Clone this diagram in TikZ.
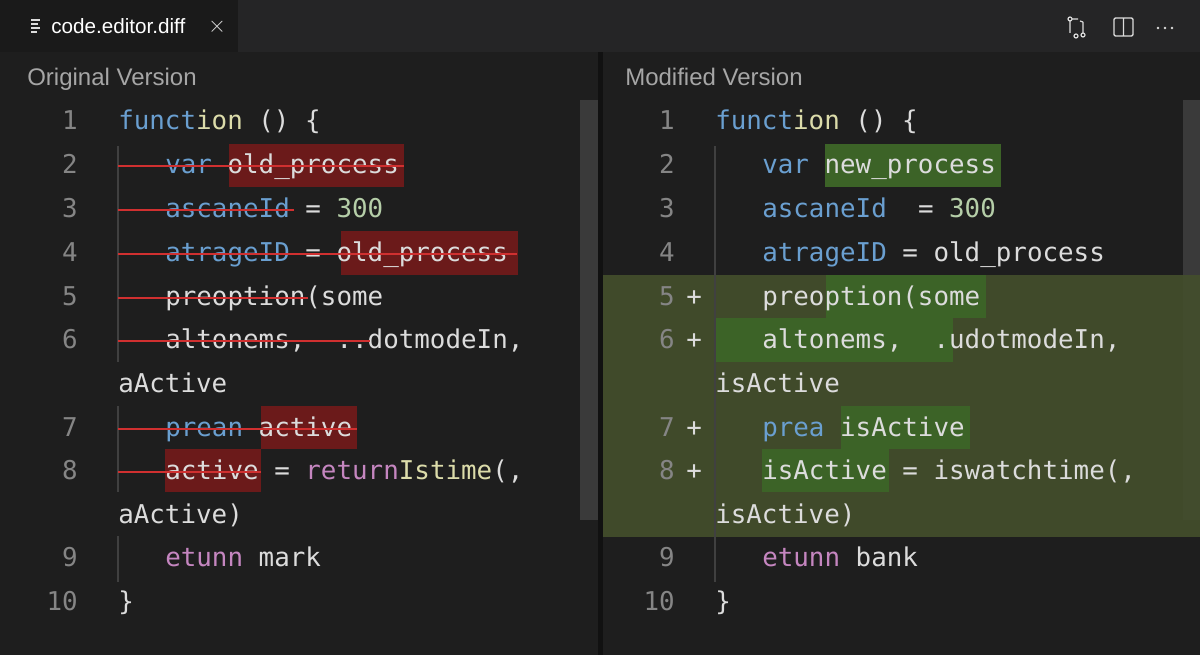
\documentclass[tikz,border=0pt]{standalone}
\usepackage{fontspec}
\setmainfont{Liberation Sans}
\newfontfamily\codefont{DejaVu Sans Mono}
\definecolor{bg}{HTML}{1E1E1E}
\definecolor{tabbar}{HTML}{252526}
\definecolor{tabc}{HTML}{1A1A1A}
\definecolor{kw}{HTML}{6A9FD0}
\definecolor{fn}{HTML}{DCDCAA}
\definecolor{num}{HTML}{B5CEA8}
\definecolor{pur}{HTML}{C586C0}
\definecolor{txt}{HTML}{DCDCDC}
\definecolor{lnc}{HTML}{858585}
\definecolor{redbox}{HTML}{6B1A1A}
\definecolor{strike}{HTML}{D03030}
\definecolor{olive}{HTML}{434E2C}
\definecolor{grn}{HTML}{3C6327}
\definecolor{guide}{HTML}{404040}
\definecolor{scroll}{HTML}{3A3A3A}
\begin{document}
\begin{tikzpicture}[x=0.75pt,y=-0.75pt,
  code/.style={anchor=base west,inner sep=0pt,text=txt,font=\codefont\fontsize{19.4}{20}\selectfont},
  lnum/.style={anchor=base east,inner sep=0pt,text=lnc,font=\codefont\fontsize{19.4}{20}\selectfont},
  plus/.style={anchor=base west,inner sep=0pt,text=txt,font=\codefont\fontsize{19.4}{20}\selectfont},
  head/.style={anchor=base west,inner sep=0pt,text=black!35!white,font=\fontsize{18}{20}\selectfont},
  strk/.style={strike,line width=1.5pt},
  rbox/.style={fill=redbox},
  gbox/.style={fill=grn}]
\useasboundingbox (0,0) rectangle (1200,655);
\fill[bg] (0,0) rectangle (1200,655);
% tab bar
\fill[tabbar] (0,0) rectangle (1200,52);
\fill[tabc] (0,0) rectangle (238,52);
\foreach \yy/\ww in {20/9,24/7,28/9,32/6}{\draw[txt,line width=0.8pt] (31,\yy) -- ++(\ww,0);}
\node[anchor=base west,inner sep=0pt,text=white,font=\fontsize{15.5}{18}\selectfont] (tab) at (51,34) {code.editor.diff};
\node[anchor=center,inner sep=0pt,text=txt,font=\fontsize{16}{18}\selectfont] (tabx) at (217,27) {$\times$};
% icons
\draw[txt,line width=0.9pt] (1070,19) circle (2) (1070,21) -- (1070,33) (1083,35) circle (2) (1083,33) -- (1083,22) (1076,36) circle (2);
\draw[txt,line width=0.9pt] (1072,19) -- (1078,19) (1080,21) -- (1083,22);
\draw[txt,line width=1pt,rounded corners=1pt] (1114,18) rectangle (1133,36) (1123.5,18) -- (1123.5,36);
\foreach \xx in {1158,1165,1172}{\fill[txt] (\xx,28) circle (1.3);}
% panels
\fill[black!45!bg] (598,52) rectangle (603,655);
\fill[scroll] (580,100) rectangle (598,520);
\fill[scroll] (1183,100) rectangle (1200,520);
\node[head] (h1) at (27,86) {Original Version};
\node[head] (h2) at (625,86) {Modified Version};
% olive block
\fill[olive,opacity=0.92] (603,275) rectangle (1200,537);
% red boxes
\fill[rbox] (229,144) rectangle (404,187);
\fill[rbox] (341,231) rectangle (518,275);
\fill[rbox] (261,406) rectangle (357,449);
\fill[rbox] (165,449) rectangle (261,492);
% green boxes
\fill[gbox] (825,144) rectangle (1001,187);
\fill[gbox] (826,275) rectangle (986,318);
\fill[gbox] (715,318) rectangle (953,362);
\fill[gbox] (841,406) rectangle (970,449);
\fill[gbox] (762,449) rectangle (889,492);
% guides
\draw[guide,line width=0.8pt] (118,146) -- (118,362) (118,406) -- (118,492) (118,536) -- (118,582);
\draw[guide,line width=0.8pt] (715,146) -- (715,582);
% left code
\foreach \n/\yy in {1/130,2/174,3/218,4/262,5/306,6/349,7/437,8/480,9/567,10/611}{\node[lnum] (l\n) at (78,\yy) {\n};}
\node[code] (a1) at (118,130) {\textcolor{kw}{funct}\textcolor{fn}{ion} () \{};
\node[code] (a2) at (165,174) {\textcolor{kw}{var} old\_process};
\node[code] (a3) at (165,218) {\textcolor{kw}{ascaneId} = \textcolor{num}{300}};
\node[code] (a4) at (165,262) {\textcolor{kw}{atrageID} = old\_process};
\node[code] (a5) at (165,306) {preoption(some};
\node[code] (a6) at (165,349) {altonems,~~..dotmodeIn,};
\node[code] (a6b) at (118,393) {aActive};
\node[code] (a7) at (165,437) {\textcolor{kw}{prean} active};
\node[code] (a8) at (165,480) {active = \textcolor{pur}{return}\textcolor{fn}{Istime}(,};
\node[code] (a8b) at (118,524) {aActive)};
\node[code] (a9) at (165,567) {\textcolor{pur}{etunn} mark};
\node[code] (a10) at (118,611) {\}};
% strikes
\draw[strk] (118,166) -- (404,166);
\draw[strk] (118,210) -- (294,210);
\draw[strk] (118,254) -- (517,254);
\draw[strk] (118,298) -- (308,298);
\draw[strk] (118,341) -- (370,341);
\draw[strk] (118,429) -- (357,429);
\draw[strk] (118,472) -- (261,472);
% right code
\foreach \n/\yy in {1/130,2/174,3/218,4/262,5/306,6/349,7/437,8/480,9/567,10/611}{\node[lnum] (r\n) at (675,\yy) {\n};}
\foreach \n/\yy in {5/306,6/349,7/437,8/480}{\node[plus] (p\n) at (686,\yy) {+};}
\node[code] (b1) at (715,130) {\textcolor{kw}{funct}\textcolor{fn}{ion} () \{};
\node[code] (b2) at (762,174) {\textcolor{kw}{var} new\_process};
\node[code] (b3) at (762,218) {\textcolor{kw}{ascaneId}~~= \textcolor{num}{300}};
\node[code] (b4) at (762,262) {\textcolor{kw}{atrageID} = old\_process};
\node[code] (b5) at (762,306) {preoption(some};
\node[code] (b6) at (762,349) {altonems,~~.udotmodeIn,};
\node[code] (b6b) at (715,393) {isActive};
\node[code] (b7) at (762,437) {\textcolor{kw}{prea} isActive};
\node[code] (b8) at (762,480) {isActive = iswatchtime(,};
\node[code] (b8b) at (715,524) {isActive)};
\node[code] (b9) at (762,567) {\textcolor{pur}{etunn} bank};
\node[code] (b10) at (715,611) {\}};
\end{tikzpicture}
\end{document}
